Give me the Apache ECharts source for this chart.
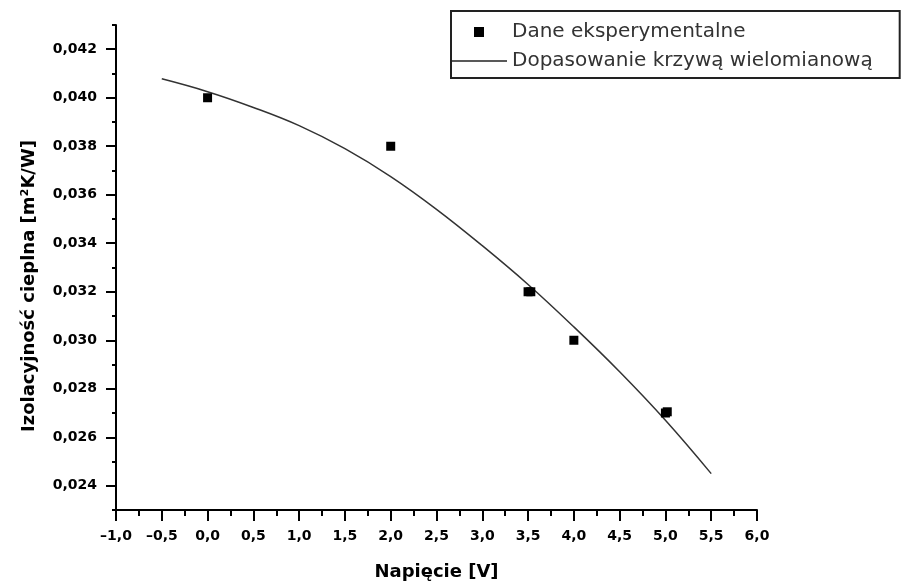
<!DOCTYPE html>
<html>
<head>
<meta charset="utf-8">
<script src="https://cdn.jsdelivr.net/npm/echarts@6/dist/echarts.min.js"></script>
<style>
html,body{margin:0;padding:0;background:#fff;}
#chart{width:902px;height:586px;}
</style>
</head>
<body>
<div id="chart"></div>
<script>
// Data
const expX = [0.0, 2.0, 3.5, 3.53, 4.0, 5.0, 5.02];
const expY = [0.0400, 0.0380, 0.0320, 0.0320, 0.0300, 0.0270, 0.02705];
const fitX = [-0.5, 0.0, 0.5, 1.0, 1.5, 2.0, 2.5, 3.0, 3.5, 4.0, 4.5, 5.0, 5.5];
const fitY = [0.04078, 0.04025, 0.0396, 0.03885, 0.0379, 0.03675, 0.0354, 0.0339, 0.0323, 0.03055, 0.0287, 0.0267, 0.0245];
const yMajorTicks = [0.024, 0.026, 0.028, 0.030, 0.032, 0.034, 0.036, 0.038, 0.040, 0.042];
const seriesNames = ['Dane eksperymentalne', 'Dopasowanie krzywą wielomianową'];
const xTitle = 'Napięcie [V]';
const yTitle = 'Izolacyjność cieplna [m²K/W]';

const expData = expX.map((x, i) => [x, expY[i]]);
const fitData = fitX.map((x, i) => [x, fitY[i]]);

const chart = echarts.init(document.getElementById('chart'), null, {renderer: 'canvas'});
const boldFont = 'DejaVu Sans';

chart.setOption({
  backgroundColor: '#ffffff',
  animation: false,
  grid: {left: 116, right: 145, top: 25, bottom: 74, containLabel: false},
  legend: {
    orient: 'vertical',
    left: 451,
    top: 11,
    padding: [11, 27, 7, 0],
    itemGap: 9,
    itemWidth: 56,
    itemHeight: 10,
    symbolKeepAspect: true,
    borderColor: '#222',
    borderWidth: 2,
    borderRadius: 0,
    textStyle: {fontFamily: 'DejaVu Sans', fontSize: 20, color: '#333', padding: [0, 0, 0, 0]},
    data: [
      {name: seriesNames[0], icon: 'path://M0,0h10v10h-10z', itemStyle: {color: '#000'}},
      {name: seriesNames[1], icon: 'path://M0,0h56v1.5h-56z', itemStyle: {color: '#222'}}
    ]
  },
  xAxis: [{
    type: 'value',
    min: -1.0,
    max: 6.0,
    interval: 0.5,
    name: xTitle,
    nameLocation: 'middle',
    nameGap: 53,
    nameTextStyle: {fontFamily: boldFont, fontWeight: 'bold', fontSize: 18, color: '#000'},
    axisLine: {show: true, onZero: false, lineStyle: {color: '#000', width: 2}},
    axisTick: {show: true, inside: false, length: 11, lineStyle: {color: '#000', width: 2}},
    minorTick: {show: true, splitNumber: 2, length: 6, lineStyle: {color: '#000', width: 2}},
    axisLabel: {
      margin: 19,
      fontFamily: boldFont, fontWeight: 'bold', fontSize: 14, color: '#000',
      formatter: v => v.toFixed(1).replace('.', ',').replace('-', '–')
    },
    splitLine: {show: false},
    minorSplitLine: {show: false}
  }],
  yAxis: [{
    type: 'value',
    min: 0.023,
    max: 0.043,
    interval: 0.001,
    name: yTitle,
    nameLocation: 'middle',
    nameRotate: 90,
    nameGap: 78,
    nameTextStyle: {fontFamily: boldFont, fontWeight: 'bold', fontSize: 18, color: '#000', padding: [0, 37, 0, 0]},
    axisLine: {show: true, onZero: false, lineStyle: {color: '#000', width: 2}},
    axisTick: {show: true, inside: false, length: 10, customValues: yMajorTicks, lineStyle: {color: '#000', width: 2}},
    axisLabel: {
      margin: 19,
      customValues: yMajorTicks,
      fontFamily: boldFont, fontWeight: 'bold', fontSize: 14, color: '#000',
      formatter: v => v.toFixed(3).replace('.', ',')
    },
    splitLine: {show: false}
  }, {
    type: 'value',
    min: 0.023,
    max: 0.043,
    interval: 0.001,
    position: 'left',
    offset: 0,
    axisLine: {show: false, onZero: false},
    axisTick: {show: true, inside: false, length: 4, lineStyle: {color: '#000', width: 2}},
    axisLabel: {show: false},
    splitLine: {show: false}
  }],
  series: [{
    name: seriesNames[0],
    type: 'scatter',
    symbol: 'rect',
    symbolSize: 9,
    itemStyle: {color: '#000', opacity: 1},
    data: expData,
    z: 3
  }, {
    name: seriesNames[1],
    type: 'line',
    smooth: 0.4,
    symbol: 'none',
    showSymbol: false,
    lineStyle: {color: '#333', width: 1.5},
    itemStyle: {color: '#333'},
    data: fitData,
    z: 2
  }]
});
</script>
</body>
</html>
